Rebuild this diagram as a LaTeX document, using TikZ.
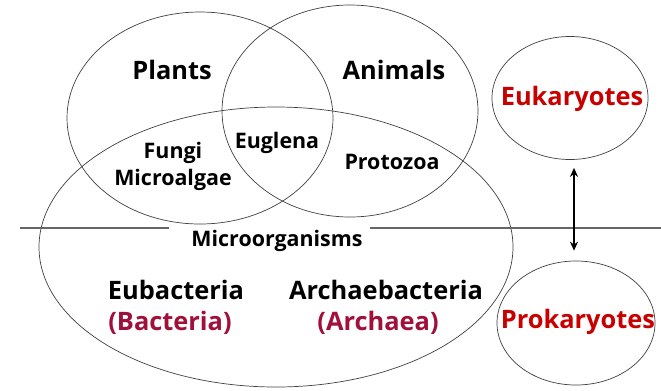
\documentclass[tikz,border=0pt]{standalone}
\usepackage{fontspec}
\setmainfont{Open Sans}
\usetikzlibrary{arrows.meta,shapes.geometric}
\definecolor{eured}{HTML}{C80000}
\definecolor{bacred}{HTML}{A0103A}
\begin{document}
\begin{tikzpicture}[x=1bp,y=-1bp,
  ring/.style={draw=black!75,line width=0.7bp},
  big/.style={font=\bfseries\fontsize{25.5}{28}\selectfont},
  mid/.style={font=\bfseries\fontsize{21.5}{27}\selectfont},
  small/.style={font=\bfseries\fontsize{21.5}{27}\selectfont},
  sep/.style={draw=black!60,line width=1.1bp}]
\useasboundingbox (0,0) rectangle (661,390);
% ellipses
\draw[ring] (200,118) ellipse [x radius=133, y radius=106];
\draw[ring] (350,111) ellipse [x radius=128, y radius=106];
\draw[ring] (276,247) ellipse [x radius=237, y radius=140];
\node[ring,shape=ellipse,minimum width=156bp,minimum height=123bp,inner sep=0] (euk) at (570,98) {};
\node[ring,shape=ellipse,minimum width=158bp,minimum height=124bp,inner sep=0] (pro) at (576,323) {};
% separator
\coordinate (la) at (20,228);
\coordinate (lb) at (169,228);
\coordinate (lc) at (370,228);
\coordinate (ld) at (661,228);
\draw[sep] (la) -- (lb);
\draw[sep] (lc) -- (ld);
% labels
\node[big] (plants) at (172,70) {Plants};
\node[big] (animals) at (394,70) {Animals};
\node[mid,align=center,inner sep=0] (fungi) at (173,166) {Fungi\\Microalgae};
\node[mid] (eug) at (277,143) {Euglena};
\node[small] (proto) at (392,162) {Protozoa};
\node[small] (micro) at (277,241) {Microorganisms};
\node[big] (eub) at (176,290) {Eubacteria};
\node[big,text=bacred] (bac) at (170,323) {(Bacteria)};
\node[big] (arch) at (386,290) {Archaebacteria};
\node[big,text=bacred] (archa) at (378,323) {(Archaea)};
\node[big,text=eured] (euktxt) at (572,99) {Eukaryotes};
\node[big,text=eured] (protxt) at (578,322) {Prokaryotes};
% arrow
\coordinate (atop) at ([xshift=4bp,yshift=-8bp]euk.south);
\coordinate (abot) at ([yshift=10bp]atop |- pro.north);
\draw[line width=2.2bp,{Stealth[length=9bp,width=8bp]}-{Stealth[length=9bp,width=8bp]}] (atop) -- (abot);
\end{tikzpicture}
\end{document}
